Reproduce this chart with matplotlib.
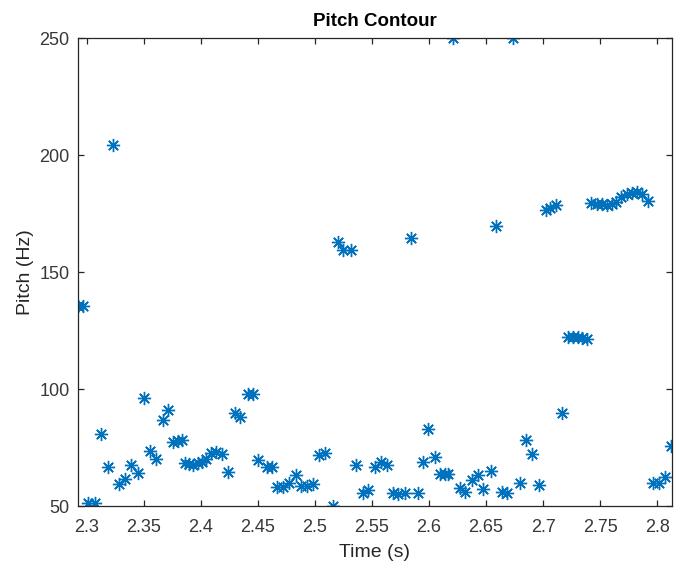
import matplotlib
matplotlib.use("Agg")
import matplotlib.pyplot as plt

plt.rcParams['font.family'] = ['Liberation Sans', 'DejaVu Sans']

# pitch track (time in s, pitch in Hz)
time_s = [2.2923, 2.2972, 2.3013, 2.3077, 2.3127, 2.3186, 2.3235, 2.3287, 2.3340,
          2.3390, 2.3448, 2.3500, 2.3556, 2.3609, 2.3667, 2.3716, 2.3760, 2.3799,
          2.3836, 2.3865, 2.3900, 2.3935, 2.3974, 2.4011, 2.4046, 2.4090, 2.4134,
          2.4187, 2.4242, 2.4300, 2.4344, 2.4417, 2.4461, 2.4505, 2.4578, 2.4622,
          2.4671, 2.4723, 2.4776, 2.4835, 2.4878, 2.4933, 2.4986, 2.5039, 2.5088,
          2.5161, 2.5205, 2.5249, 2.5313, 2.5360, 2.5419, 2.5468, 2.5526, 2.5579,
          2.5629, 2.5687, 2.5730, 2.5789, 2.5842, 2.5900, 2.5949, 2.5993, 2.6052,
          2.6096, 2.6139, 2.6168, 2.6212, 2.6271, 2.6314, 2.6373, 2.6426, 2.6475,
          2.6542, 2.6586, 2.6636, 2.6688, 2.6737, 2.6802, 2.6849, 2.6907, 2.6962,
          2.7024, 2.7059, 2.7111, 2.7170, 2.7219, 2.7263, 2.7306, 2.7345, 2.7389,
          2.7424, 2.7468, 2.7512, 2.7556, 2.7600, 2.7643, 2.7687, 2.7731, 2.7775,
          2.7819, 2.7863, 2.7920, 2.7963, 2.8015, 2.8066, 2.8125]
pitch_hz = [135.5, 135.5, 51.1, 51.1, 81.0, 66.8, 204.4, 59.4, 61.4,
            67.5, 64.0, 96.3, 73.6, 70.0, 86.7, 91.0, 77.5, 77.8,
            78.2, 68.2, 67.9, 67.5, 68.2, 68.9, 69.9, 72.5, 73.2,
            72.2, 64.6, 89.9, 87.9, 97.9, 97.9, 69.6, 66.5, 66.5,
            58.2, 58.0, 59.7, 63.2, 58.5, 58.5, 59.4, 71.8, 72.5,
            50.0, 163.0, 159.5, 159.5, 67.5, 55.7, 56.8, 66.5, 68.9,
            67.5, 55.7, 55.1, 55.4, 164.7, 55.7, 68.9, 82.8, 71.0,
            63.6, 63.9, 63.9, 250.0, 57.5, 56.1, 61.1, 63.2, 57.1,
            65.0, 169.9, 56.1, 55.7, 250.0, 59.9, 78.2, 72.2, 58.9,
            176.6, 177.5, 178.7, 89.9, 122.1, 122.1, 122.1, 121.7, 121.4,
            179.4, 179.1, 179.0, 178.7, 179.0, 180.1, 182.2, 183.4, 183.9,
            184.4, 183.4, 180.5, 59.7, 59.7, 62.5, 75.6]

x_ticks = [2.3, 2.35, 2.4, 2.45, 2.5, 2.55, 2.6, 2.65, 2.7, 2.75, 2.8]
x_tick_labels = ['2.3', '2.35', '2.4', '2.45', '2.5', '2.55', '2.6', '2.65', '2.7', '2.75', '2.8']
y_ticks = [50, 100, 150, 200, 250]

fig = plt.figure(figsize=(6.74, 5.65), dpi=100)
ax = fig.add_axes([0.1153, 0.1044, 0.8813, 0.8278])

ax.plot(time_s, pitch_hz, linestyle='none', marker=(8, 2, 0), markersize=9.5,
        markeredgewidth=1.0, color=(0.0, 0.447, 0.741))

ax.set_xlim(2.2922, 2.8127)
ax.set_ylim(50, 250)
ax.set_xticks(x_ticks)
ax.set_xticklabels(x_tick_labels)
ax.set_yticks(y_ticks)

axis_gray = (0.15, 0.15, 0.15)
for side in ax.spines.values():
    side.set_color(axis_gray)
    side.set_linewidth(0.9)
ax.tick_params(axis='both', direction='in', top=True, right=True, length=4, width=0.9,
               colors=axis_gray, labelsize=13)
ax.tick_params(axis='x', pad=9)
ax.tick_params(axis='y', pad=6)
for lab in ax.get_xticklabels() + ax.get_yticklabels():
    lab.set_color((0.22, 0.22, 0.22))

ax.set_title("Pitch Contour", fontsize=13.5, fontweight='bold', pad=9)
ax.set_xlabel("Time (s)", fontsize=14, color=axis_gray, labelpad=6)
ax.set_ylabel("Pitch (Hz)", fontsize=14, color=axis_gray, labelpad=4)

fig.savefig("out.png", dpi=100)
